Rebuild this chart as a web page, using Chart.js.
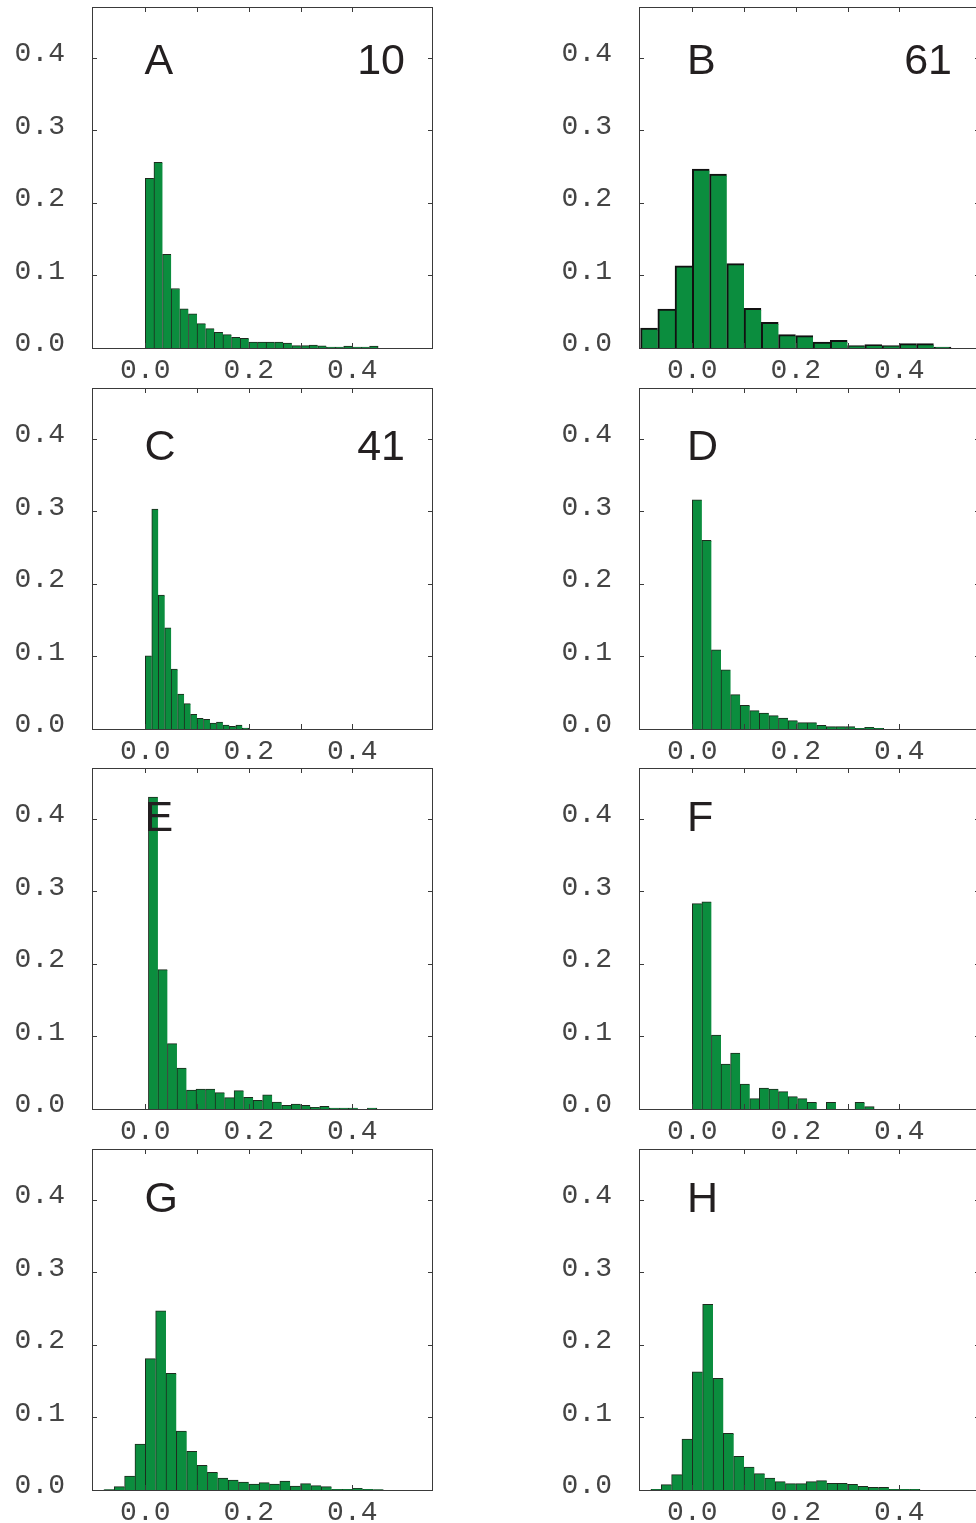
<!DOCTYPE html>
<html><head><meta charset="utf-8">
<script src="https://cdn.jsdelivr.net/npm/chart.js@4.4.0/dist/chart.umd.min.js"></script>
<style>
html,body{margin:0;padding:0;background:#fff;overflow:hidden;width:976px;height:1523px;position:relative;}
.p{position:absolute;width:440px;height:390px;}
</style></head><body>
<script>
// ---------- DATA (bin centres and relative frequencies) ----------
const panelLetters = ['A','B','C','D','E','F','G','H'];
const panelCounts  = ['10','61','41','','','','',''];
const xTickLabels  = ['0.0','0.2','0.4'];
const yTickLabels  = ['0.0','0.1','0.2','0.3','0.4'];

const binsA = [0.0083,0.025,0.0417,0.0583,0.075,0.0917,0.1083,0.125,0.1417,0.1583,0.175,0.1917,0.2083,0.225,0.2417,0.2583,0.275,0.2917,0.3083,0.325,0.3417,0.3583,0.375,0.3917,0.4083,0.425,0.4417];
const freqA = [0.234,0.256,0.129,0.082,0.054,0.047,0.0335,0.0266,0.0216,0.0184,0.0147,0.0133,0.0083,0.0083,0.0083,0.0083,0.0069,0.0032,0.0032,0.0041,0.003,0.0014,0.0014,0.0028,0.0014,0.0014,0.0028];

const binsB = [-0.0833,-0.05,-0.0167,0.0167,0.05,0.0833,0.1167,0.15,0.1833,0.2167,0.25,0.2833,0.3167,0.35,0.3833,0.4167,0.45,0.4833];
const freqB = [0.0275,0.0537,0.1134,0.2466,0.2397,0.1162,0.0546,0.0354,0.0184,0.017,0.0083,0.0106,0.0032,0.0046,0.0032,0.006,0.006,0.0014];

const binsC = [0.00625,0.01875,0.03125,0.04375,0.05625,0.06875,0.08125,0.09375,0.10625,0.11875,0.13125,0.14375,0.15625,0.16875,0.18125,0.19375];
const freqC = [0.101,0.303,0.1846,0.1396,0.0826,0.0482,0.0349,0.0202,0.0147,0.0133,0.0083,0.0096,0.0055,0.0037,0.0055,0.0014];

const binsD = [0.00925,0.02775,0.04625,0.06475,0.08325,0.10175,0.12025,0.13875,0.15725,0.17575,0.19425,0.21275,0.23125,0.24975,0.26825,0.28675,0.30525,0.32375,0.34225,0.36075];
const freqD = [0.316,0.26,0.109,0.0817,0.0473,0.0326,0.0253,0.022,0.0184,0.0152,0.0115,0.0087,0.0087,0.005,0.0032,0.0032,0.0032,0.001,0.0023,0.001];

const binsE = [0.0152,0.0336,0.052,0.0704,0.0888,0.1072,0.1256,0.144,0.1624,0.1808,0.1992,0.2176,0.236,0.2544,0.2728,0.2912,0.3096,0.328,0.3464,0.3648,0.3832,0.4016,0.42,0.4384];
const freqE = [0.43,0.192,0.09,0.0565,0.0262,0.0275,0.0275,0.0225,0.0156,0.0253,0.0161,0.0119,0.0197,0.0096,0.005,0.0069,0.005,0.0023,0.0037,0.0014,0.0014,0.0014,0,0.0014];

const binsF = [0.00925,0.02775,0.04625,0.06475,0.08325,0.10175,0.12025,0.13875,0.15725,0.17575,0.19425,0.21275,0.23125,0.24975,0.26825,0.28675,0.30525,0.32375,0.34225];
const freqF = [0.283,0.2856,0.102,0.062,0.0771,0.0344,0.0142,0.0289,0.0275,0.0239,0.017,0.0142,0.0092,0,0.0092,0,0,0.0092,0.0032];

const binsG = [-0.07,-0.05,-0.03,-0.01,0.01,0.03,0.05,0.07,0.09,0.11,0.13,0.15,0.17,0.19,0.21,0.23,0.25,0.27,0.29,0.31,0.33,0.35,0.37,0.39,0.41,0.43,0.45];
const freqG = [0.0005,0.0046,0.0193,0.0634,0.181,0.247,0.1607,0.0813,0.0533,0.034,0.0243,0.0165,0.0138,0.011,0.0083,0.0101,0.0083,0.0124,0.0055,0.0087,0.006,0.0046,0.001,0.001,0.0023,0.001,0.0005];

const binsH = [-0.07,-0.05,-0.03,-0.01,0.01,0.03,0.05,0.07,0.09,0.11,0.13,0.15,0.17,0.19,0.21,0.23,0.25,0.27,0.29,0.31,0.33,0.35,0.37,0.39,0.41,0.43];
const freqH = [0.001,0.0073,0.0211,0.0702,0.163,0.256,0.154,0.078,0.0464,0.0317,0.0225,0.0165,0.0115,0.0087,0.0087,0.0115,0.0129,0.0092,0.0092,0.0078,0.005,0.0037,0.0037,0.001,0.001,0.001];

const allBins  = [binsA,binsB,binsC,binsD,binsE,binsF,binsG,binsH];
const allFreqs = [freqA,freqB,freqC,freqD,freqE,freqF,freqG,freqH];

const xMin = -0.103, xMax = 0.556, yMin = 0, yMax = 0.47;

// ---------- LAYOUT / STYLE ----------
const rowTops = [0, 381, 761, 1142];
const colLefts = [0, 547];
const letterBaseline = [67, 72, 63, 63];   // px below plot top
const letterInset = [52.5, 48];            // px right of plot left
const GREEN = '#0b8d3e';
const FRAME = '#3a3a3a';
const TEXT = '#444444';
const MONO = '"Liberation Mono", "Courier New", monospace';
const SANS = '"Liberation Sans", Arial, sans-serif';

const isTenth = v => Math.abs(v * 10 - Math.round(v * 10)) < 1e-6;
const noPad = s => { s.paddingTop = 0; s.paddingBottom = 0; s.paddingLeft = 0; s.paddingRight = 0; };

const framePlugin = {
  id: 'frame',
  afterDatasetsDraw(chart, args, opts) {
    const {ctx, chartArea: a, scales: {x, y}} = chart;
    ctx.save();
    ctx.strokeStyle = FRAME;
    ctx.lineWidth = 1;
    ctx.strokeRect(a.left + 0.5, a.top + 0.5, a.right - a.left - 1, a.bottom - a.top);
    const tl = 5;
    ctx.beginPath();
    x.ticks.forEach(t => {
      const px = Math.round(x.getPixelForValue(t.value)) + 0.5;
      ctx.moveTo(px, a.top); ctx.lineTo(px, a.top + tl);
      ctx.moveTo(px, a.bottom); ctx.lineTo(px, a.bottom - tl);
    });
    y.ticks.forEach(t => {
      const py = Math.round(y.getPixelForValue(t.value)) + 0.5;
      ctx.moveTo(a.left, py); ctx.lineTo(a.left + tl, py);
      ctx.moveTo(a.right, py); ctx.lineTo(a.right - tl, py);
    });
    ctx.stroke();
    ctx.fillStyle = '#231f20';
    ctx.font = '43px ' + SANS;
    ctx.textBaseline = 'alphabetic';
    ctx.textAlign = 'left';
    ctx.fillText(opts.letter, a.left + opts.inset, a.top + opts.base);
    if (opts.count) {
      ctx.textAlign = 'right';
      ctx.fillText(opts.count, x.getPixelForValue(0.5) + 1, a.top + opts.base);
    }
    ctx.restore();
  }
};

panelLetters.forEach((letter, i) => {
  const col = i % 2, row = Math.floor(i / 2);
  const div = document.createElement('div');
  div.className = 'p';
  div.style.left = colLefts[col] + 'px';
  div.style.top = rowTops[row] + 'px';
  const cv = document.createElement('canvas');
  cv.width = 440; cv.height = 390;
  cv.style.width = '440px'; cv.style.height = '390px';
  div.appendChild(cv);
  document.body.appendChild(div);

  const bins = allBins[i], freq = allFreqs[i];
  const n = bins.length;
  const thick = (letter === 'B');
  const bw = thick ? 2 : 1;

  new Chart(cv, {
    type: 'bar',
    data: {
      datasets: [{
        data: bins.map((b, k) => ({x: b, y: freq[k]})),
        backgroundColor: GREEN,
        borderColor: thick ? '#111' : '#1e2a1e',
        borderWidth: ctx => ({top: bw, left: bw, right: ctx.dataIndex === n - 1 ? bw : 0, bottom: 0}),
        borderSkipped: 'start',
        barPercentage: 1,
        categoryPercentage: 1
      }]
    },
    options: {
      responsive: false,
      devicePixelRatio: 1,
      animation: false,
      layout: {padding: {top: 7, right: 7, left: 0, bottom: 0}},
      plugins: {
        legend: {display: false},
        tooltip: {enabled: false},
        frame: {letter: letter, count: panelCounts[i], inset: letterInset[col], base: letterBaseline[row]}
      },
      scales: {
        x: {
          type: 'linear', min: xMin, max: xMax, offset: false, bounds: 'ticks',
          grid: {display: false, drawTicks: false},
          border: {display: false},
          ticks: {
            stepSize: 0.1, includeBounds: true, autoSkip: false, maxRotation: 0,
            padding: 6, color: TEXT,
            font: {family: MONO, size: 28},
            callback: v => {
              const s = (Math.round(v * 10) / 10).toFixed(1);
              return xTickLabels.includes(s) && isTenth(v) ? s : '';
            }
          },
          afterBuildTicks: s => { s.ticks = s.ticks.filter(t => isTenth(t.value)); },
          afterFit: s => { s.height = 42; noPad(s); }
        },
        y: {
          type: 'linear', min: yMin, max: yMax, bounds: 'ticks',
          grid: {display: false, drawTicks: false},
          border: {display: false},
          ticks: {
            stepSize: 0.1, includeBounds: true, autoSkip: false,
            padding: 27, labelOffset: -4, color: TEXT,
            font: {family: MONO, size: 28},
            callback: v => {
              const s = (Math.round(v * 10) / 10).toFixed(1);
              return yTickLabels.includes(s) && isTenth(v) ? s : '';
            }
          },
          afterBuildTicks: s => { s.ticks = s.ticks.filter(t => isTenth(t.value)); },
          afterFit: s => { s.width = 92; noPad(s); }
        }
      }
    },
    plugins: [framePlugin]
  });
});
</script>
</body></html>
